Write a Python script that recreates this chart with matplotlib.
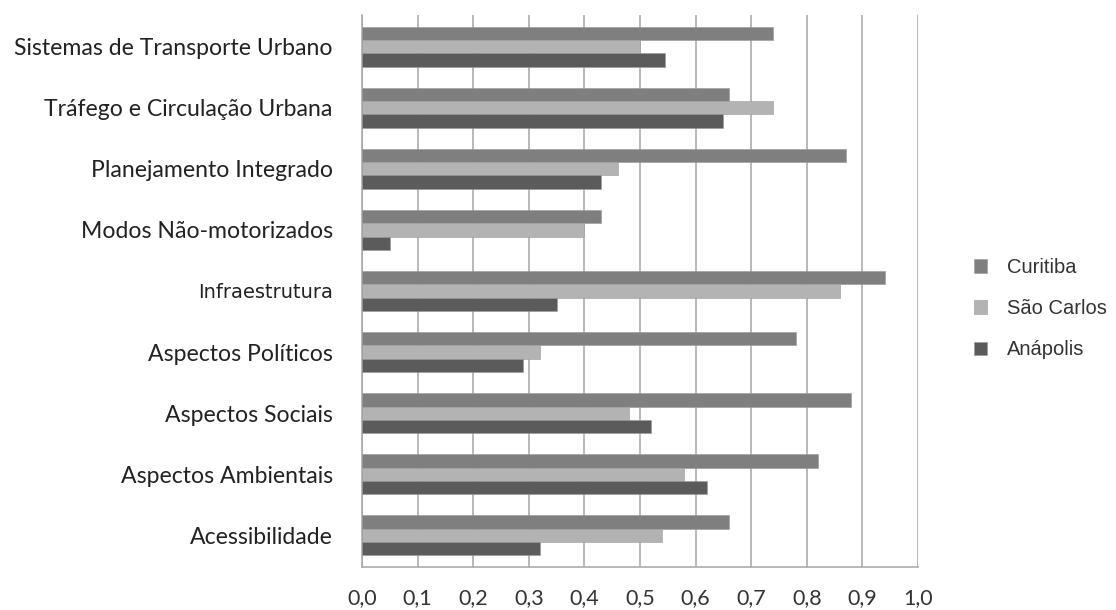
import matplotlib
matplotlib.use("Agg")
import matplotlib.pyplot as plt
import numpy as np

# Índices por tema (0 a 1) para as três cidades
categorias = [
    "Sistemas de Transporte Urbano",
    "Tráfego e Circulação Urbana",
    "Planejamento Integrado",
    "Modos Não-motorizados",
    "Infraestrutura",
    "Aspectos Políticos",
    "Aspectos Sociais",
    "Aspectos Ambientais",
    "Acessibilidade",
]
curitiba   = [0.74, 0.66, 0.87, 0.43, 0.94, 0.78, 0.88, 0.82, 0.66]
sao_carlos = [0.50, 0.74, 0.46, 0.40, 0.86, 0.32, 0.48, 0.58, 0.54]
anapolis   = [0.545, 0.65, 0.43, 0.05, 0.35, 0.29, 0.52, 0.62, 0.32]
xticks = np.arange(0, 1.01, 0.1)
xtick_labels = [f"{v:.1f}".replace(".", ",") for v in xticks]

cores = {"Curitiba": "#7f7f7f", "São Carlos": "#b3b3b3", "Anápolis": "#5b5b5b"}
grid_cor = "#a6a6a6"

fig = plt.figure(figsize=(11.16, 6.10), dpi=100)
ax = fig.add_axes([362 / 1116, 1 - 567 / 610, (918 - 362) / 1116, (567 - 15) / 610])

n = len(categorias)
y = np.arange(n)[::-1].astype(float)
h = 0.216
series = [("Curitiba", curitiba, h), ("São Carlos", sao_carlos, 0.0), ("Anápolis", anapolis, -h)]
for nome, vals, off in series:
    ax.barh(y + off, vals, height=h, color=cores[nome], edgecolor="#9a9a9a",
            linewidth=0.4, label=nome, zorder=3)

ax.set_xlim(0, 1.0)
ax.set_ylim(-0.52, n - 0.48)
ax.set_xticks(xticks)
ax.set_xticklabels(xtick_labels, fontsize=15.5, family="Lato", color="#333333")
ax.set_yticks(y)
ax.set_yticklabels(categorias, fontsize=16.6, family="Lato", color="#222222")
for lbl in ax.get_yticklabels():
    if lbl.get_text() == "Infraestrutura":
        lbl.set_family("DejaVu Sans")
        lbl.set_fontsize(14)
ax.tick_params(axis="y", length=0, pad=21)
ax.tick_params(axis="x", length=0, pad=15)

ax.grid(axis="x", color=grid_cor, linewidth=1.1, zorder=0)
for s in ["top", "right"]:
    ax.spines[s].set_visible(False)
for s in ["left", "bottom"]:
    ax.spines[s].set_color(grid_cor)
    ax.spines[s].set_linewidth(1.1)

leg = fig.legend(loc="upper left", bbox_to_anchor=(966 / 1116, 1 - 250 / 610),
                 frameon=False, prop={"family": "Liberation Sans", "size": 14.5},
                 handlelength=0.65, handleheight=0.65, handletextpad=1.0,
                 labelspacing=1.1, borderaxespad=0)
for t in leg.get_texts():
    t.set_color("#333333")

fig.savefig("out.png", dpi=100)
